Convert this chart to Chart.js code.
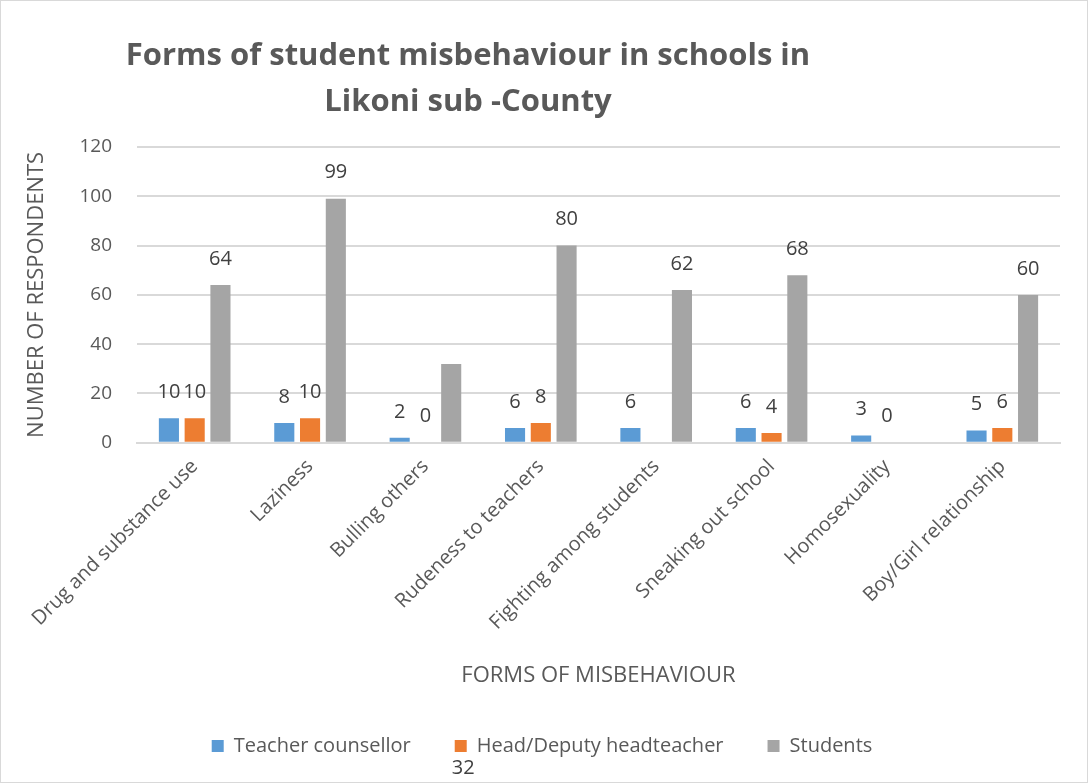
<!DOCTYPE html>
<html>
<head>
<meta charset="utf-8">
<script src="https://cdn.jsdelivr.net/npm/chart.js@4/dist/chart.umd.min.js"></script>
<style>
  html, body { margin: 0; padding: 0; background: #fff; }
  #wrap { width: 1089px; height: 784px; }
</style>
</head>
<body>
<div id="wrap"><canvas id="chart" width="1089" height="784"></canvas></div>
<script>
const categories = ["Drug and substance use", "Laziness", "Bulling others", "Rudeness to teachers",
  "Fighting among students", "Sneaking out school", "Homosexuality", "Boy/Girl relationship"]
const teacherCounsellor = [10, 8, 2, 6, 6, 6, 3, 5]
const headDeputy = [10, 10, 0, 8, null, 4, 0, 6]
const students = [64, 99, 32, 80, 62, 68, null, 60]
const titleLines = ["Forms of student misbehaviour in schools in", "Likoni sub -County"]

const FONT = "'Open Sans', sans-serif"
const GREY = '#595959'

// white background + thin frame round the whole chart
const frame = {
  id: 'frame',
  beforeDraw(chart) {
    const ctx = chart.ctx
    ctx.save()
    ctx.fillStyle = '#fff'
    ctx.fillRect(0, 0, chart.width, chart.height)
    ctx.strokeStyle = '#d9d9d9'
    ctx.lineWidth = 1
    ctx.strokeRect(0.5, 0.5, chart.width - 2, chart.height - 2)
    ctx.restore()
  }
}

// title sits left of centre in the original, so draw it by hand
const sideTitle = {
  id: 'sideTitle',
  afterDraw(chart) {
    const ctx = chart.ctx
    ctx.save()
    ctx.fillStyle = GREY
    ctx.font = `bold 31px ${FONT}`
    ctx.textAlign = 'center'
    ctx.textBaseline = 'middle'
    ctx.fillText(titleLines[0], 468, 56)
    ctx.fillText(titleLines[1], 468, 102)
    ctx.restore()
  }
}

// value labels above each bar; the 32 for "Bulling others" ended up under the legend
const valueLabels = {
  id: 'valueLabels',
  afterDatasetsDraw(chart) {
    const ctx = chart.ctx
    ctx.save()
    ctx.fillStyle = '#404040'
    ctx.font = `20px ${FONT}`
    ctx.textAlign = 'center'
    ctx.textBaseline = 'middle'
    chart.data.datasets.forEach((ds, di) => {
      chart.getDatasetMeta(di).data.forEach((bar, i) => {
        const v = ds.data[i]
        if (v === null) return
        if (di === 2 && i === 2) {
          const box = chart.legend.legendHitBoxes[1]
          ctx.textAlign = 'left'
          ctx.fillText(String(v), box.left - 3, box.top + box.height + 12)
          ctx.textAlign = 'center'
          return
        }
        ctx.fillText(String(v), bar.x, bar.y - 26)
      })
    })
    ctx.restore()
  }
}

new Chart(document.getElementById('chart'), {
  type: 'bar',
  data: {
    labels: categories,
    datasets: [
      { label: 'Teacher counsellor', data: teacherCounsellor, backgroundColor: '#5b9bd5' },
      { label: 'Head/Deputy headteacher', data: headDeputy, backgroundColor: '#ed7d31' },
      { label: 'Students', data: students, backgroundColor: '#a5a5a5' }
    ]
  },
  options: {
    responsive: false,
    animation: false,
    datasets: { bar: { categoryPercentage: 0.67, barPercentage: 0.78 } },
    layout: { padding: { top: 147, right: 29, left: 24, bottom: 18 } },
    scales: {
      x: {
        grid: { display: false },
        border: { color: '#d9d9d9', width: 2 },
        ticks: { color: GREY, font: { family: FONT, size: 20 }, minRotation: 45, maxRotation: 45, padding: 4 },
        title: { display: true, text: 'FORMS OF MISBEHAVIOUR', color: GREY, font: { family: FONT, size: 22 }, padding: { top: 24, bottom: 3 } }
      },
      y: {
        min: 0, max: 120,
        ticks: { stepSize: 20, color: GREY, font: { family: FONT, size: 19 }, padding: 25 },
        grid: { color: '#d9d9d9', lineWidth: 2, drawTicks: false },
        border: { display: false },
        title: { display: true, text: 'NUMBER OF RESPONDENTS', color: GREY, font: { family: FONT, size: 22 }, padding: { top: 0, bottom: 4 } }
      }
    },
    plugins: {
      legend: {
        position: 'bottom',
        labels: { color: GREY, font: { family: FONT, size: 20 }, boxWidth: 12, boxHeight: 12, padding: 44 }
      },
      tooltip: { enabled: false }
    }
  },
  plugins: [frame, valueLabels, sideTitle]
})
</script>
</body>
</html>
